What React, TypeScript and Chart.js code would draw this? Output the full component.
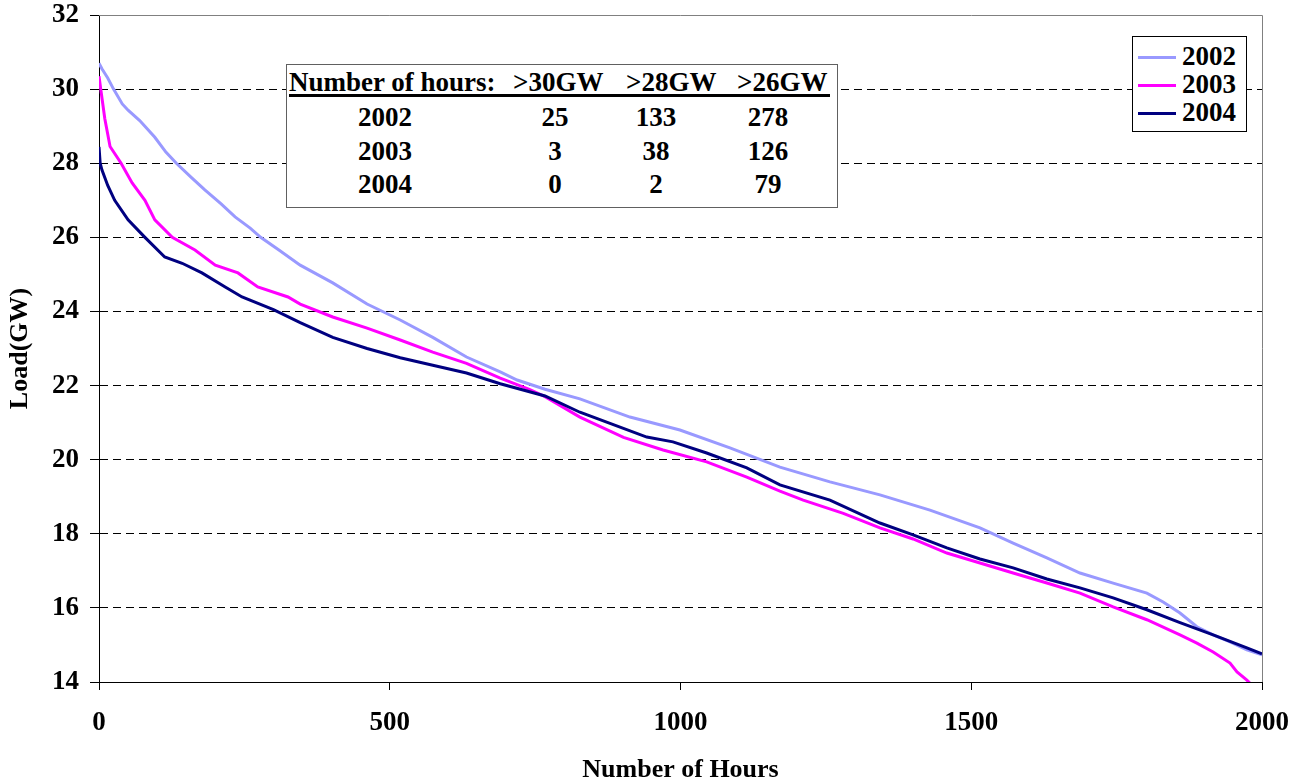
import React, { useEffect, useRef } from "react";
import { Chart, registerables } from "chart.js";

Chart.register(...registerables);

// ---------- data ----------
const seriesLabels = ["2002", "2003", "2004"];
const seriesColors = ["#9999FF", "#FF00FF", "#000080"];

const hours2002 = [0, 5, 15, 25, 40, 50, 70, 96, 115, 133, 160, 182, 210, 234, 260, 278, 310, 346, 402, 461, 518, 574, 632, 690, 719, 767, 827, 913, 999, 1085, 1171, 1257, 1343, 1429, 1515, 1572, 1630, 1687, 1744, 1802, 1830, 1859, 1888, 1916, 1945, 1974, 2000];
const load2002 = [30.7, 30.55, 30.3, 30.0, 29.6, 29.43, 29.15, 28.7, 28.3, 28.0, 27.6, 27.28, 26.9, 26.55, 26.25, 26.0, 25.65, 25.25, 24.77, 24.2, 23.77, 23.3, 22.77, 22.37, 22.15, 21.9, 21.64, 21.15, 20.8, 20.32, 19.8, 19.4, 19.05, 18.64, 18.16, 17.75, 17.35, 16.94, 16.67, 16.4, 16.16, 15.86, 15.49, 15.27, 15.08, 14.87, 14.73];

const hours2003 = [0, 3, 10, 19, 38, 57, 79, 96, 126, 165, 200, 239, 273, 325, 346, 402, 461, 518, 574, 632, 690, 740, 767, 827, 902, 970, 1045, 1114, 1171, 1211, 1280, 1343, 1400, 1458, 1515, 1572, 1630, 1687, 1744, 1802, 1859, 1888, 1916, 1945, 1957, 1974, 1990];
const load2003 = [30.35, 30.0, 29.2, 28.45, 28.0, 27.47, 27.0, 26.47, 26.0, 25.66, 25.25, 25.04, 24.66, 24.39, 24.2, 23.85, 23.55, 23.23, 22.9, 22.6, 22.2, 21.9, 21.7, 21.15, 20.6, 20.26, 19.94, 19.53, 19.15, 18.91, 18.55, 18.16, 17.86, 17.48, 17.21, 16.94, 16.67, 16.4, 16.03, 15.68, 15.27, 15.05, 14.81, 14.51, 14.27, 14.05, 13.8];

const hours2004 = [0, 2, 5, 15, 27, 50, 79, 113, 143, 177, 217, 246, 300, 346, 402, 461, 518, 574, 632, 690, 767, 827, 942, 987, 1045, 1114, 1171, 1257, 1343, 1400, 1458, 1515, 1572, 1630, 1687, 1744, 1802, 1859, 1916, 1974, 2000];
const load2004 = [28.44, 28.0, 27.82, 27.4, 27.0, 26.47, 26.0, 25.47, 25.3, 25.04, 24.66, 24.39, 24.05, 23.7, 23.3, 23.0, 22.75, 22.55, 22.34, 22.05, 21.72, 21.28, 20.61, 20.48, 20.18, 19.78, 19.32, 18.91, 18.29, 17.97, 17.62, 17.32, 17.08, 16.78, 16.54, 16.27, 15.95, 15.6, 15.27, 14.92, 14.76];

const xTicks = [0, 500, 1000, 1500, 2000];
const yTicks = [14, 16, 18, 20, 22, 24, 26, 28, 30, 32];
const xTitle = "Number of Hours";
const yTitle = "Load(GW)";

const tableHeader = ["Number of hours:", ">30GW", ">28GW", ">26GW"];
const tableYears = ["2002", "2003", "2004"];
const hoursOver30 = [25, 3, 0];
const hoursOver28 = [133, 38, 2];
const hoursOver26 = [278, 126, 79];

// ---------- styling ----------
const FONT = '"Liberation Serif", "Times New Roman", Times, serif';
const W = 1303;
const H = 780;

const toPoints = (hs: number[], ls: number[]) => hs.map((h, i) => ({ x: h, y: ls[i] }));

const frame = {
  id: "frame",
  beforeDatasetsDraw(chart: any) {
    const { ctx, chartArea } = chart;
    ctx.save();
    ctx.strokeStyle = "#808080";
    ctx.lineWidth = 1;
    ctx.beginPath();
    ctx.moveTo(chartArea.left, chartArea.top + 0.5);
    ctx.lineTo(chartArea.right + 0.5, chartArea.top + 0.5);
    ctx.lineTo(chartArea.right + 0.5, chartArea.bottom);
    ctx.stroke();
    ctx.restore();
  },
};

function ChartCanvas() {
  const ref = useRef<HTMLCanvasElement | null>(null);
  useEffect(() => {
    if (!ref.current) return;
    const series = [
      toPoints(hours2002, load2002),
      toPoints(hours2003, load2003),
      toPoints(hours2004, load2004),
    ];
    const tickFont = { family: FONT, size: 27, weight: "bold" as const };
    const titleFont = { family: FONT, size: 26, weight: "bold" as const, lineHeight: 1 };
    const chart = new Chart(ref.current, {
      type: "line",
      data: {
        datasets: series.map((d, i) => ({
          label: seriesLabels[i],
          data: d,
          borderColor: seriesColors[i],
          backgroundColor: seriesColors[i],
          borderWidth: 3,
          pointRadius: 0,
          tension: 0,
          fill: false,
          order: 3 - i,
        })),
      },
      options: {
        animation: false,
        responsive: false,
        maintainAspectRatio: false,
        layout: { padding: { top: 15, right: 41, left: 0, bottom: 0 } },
        plugins: { legend: { display: false }, tooltip: { enabled: false }, title: { display: false } },
        scales: {
          x: {
            type: "linear",
            min: 0,
            max: 2000,
            afterBuildTicks: (s: any) => {
              s.ticks = xTicks.map((v) => ({ value: v }));
            },
            afterFit: (s: any) => {
              s.height = 98;
              s.paddingLeft = 0;
              s.paddingRight = 0;
            },
            ticks: {
              font: tickFont,
              color: "#000",
              padding: 17,
              maxRotation: 0,
              autoSkip: false,
              callback: (v: any) => String(v),
            },
            grid: { drawOnChartArea: false, tickLength: 8, tickColor: "#000", tickWidth: 1 },
            border: { display: true, color: "#000", width: 1 },
            title: { display: true, text: xTitle, font: titleFont, color: "#000", padding: { top: 0, bottom: -3 } },
          },
          y: {
            type: "linear",
            min: 14,
            max: 32,
            afterBuildTicks: (s: any) => {
              s.ticks = yTicks.map((v) => ({ value: v }));
            },
            afterFit: (s: any) => {
              s.width = 99;
              s.paddingTop = 0;
              s.paddingBottom = 0;
            },
            ticks: {
              font: tickFont,
              color: "#000",
              padding: 11,
              autoSkip: false,
              callback: (v: any) => String(v),
            },
            grid: {
              color: (c: any) =>
                c.tick && (c.tick.value === 14 || c.tick.value === 32) ? "rgba(0,0,0,0)" : "#000",
              lineWidth: 1,
              tickLength: 9,
              tickColor: "#000",
              tickWidth: 1,
            },
            border: { display: true, color: "#000", width: 1, dash: [8, 5] },
            title: { display: true, text: yTitle, font: titleFont, color: "#000", padding: { top: 7, bottom: 0 } },
          },
        },
      },
      plugins: [frame],
    } as any);
    return () => chart.destroy();
  }, []);
  return <canvas ref={ref} width={W} height={H} style={{ display: "block", width: W, height: H }} />;
}

const txt: React.CSSProperties = {
  position: "absolute",
  fontFamily: FONT,
  fontWeight: "bold",
  fontSize: 27,
  lineHeight: "27px",
  color: "#000",
  whiteSpace: "pre",
};

function Centered({ cx, cy, children }: { cx: number; cy: number; children: React.ReactNode }) {
  return <div style={{ ...txt, left: cx - 60, width: 120, top: cy - 13.6, textAlign: "center" }}>{children}</div>;
}

function StatsTable() {
  const rowY = [118, 152, 185];
  const colX = [555, 656, 768];
  const headLeft = [289, 513, 626, 737];
  const cols = [hoursOver30, hoursOver28, hoursOver26];
  return (
    <>
      <div
        style={{
          position: "absolute",
          left: 286,
          top: 64,
          width: 550,
          height: 142,
          border: "1px solid #606060",
          background: "#fff",
        }}
      />
      {tableHeader.map((h, i) => (
        <div key={h} style={{ ...txt, left: headLeft[i], top: 83 - 13.6 }}>{h}</div>
      ))}
      <div style={{ position: "absolute", left: 289, top: 94, width: 541, height: 3, background: "#000" }} />
      {tableYears.map((y, r) => (
        <React.Fragment key={y}>
          <Centered cx={385} cy={rowY[r]}>{y}</Centered>
          {cols.map((c, j) => (
            <Centered key={j} cx={colX[j]} cy={rowY[r]}>{String(c[r])}</Centered>
          ))}
        </React.Fragment>
      ))}
    </>
  );
}

function Legend() {
  const rowY = [57, 85, 113];
  return (
    <>
      <div
        style={{
          position: "absolute",
          left: 1132,
          top: 36,
          width: 113,
          height: 94,
          border: "1px solid #000",
          background: "#fff",
        }}
      />
      {seriesLabels.map((l, i) => (
        <React.Fragment key={l}>
          <div style={{ position: "absolute", left: 1138, top: rowY[i] - 1.5, width: 38, height: 3, background: seriesColors[i] }} />
          <div style={{ ...txt, left: 1182, top: rowY[i] - 13.6 }}>{l}</div>
        </React.Fragment>
      ))}
    </>
  );
}

export default function App() {
  return (
    <div style={{ position: "absolute", left: 0, top: 0, width: W, height: H, background: "#fff", overflow: "hidden" }}>
      <ChartCanvas />
      <StatsTable />
      <Legend />
    </div>
  );
}
